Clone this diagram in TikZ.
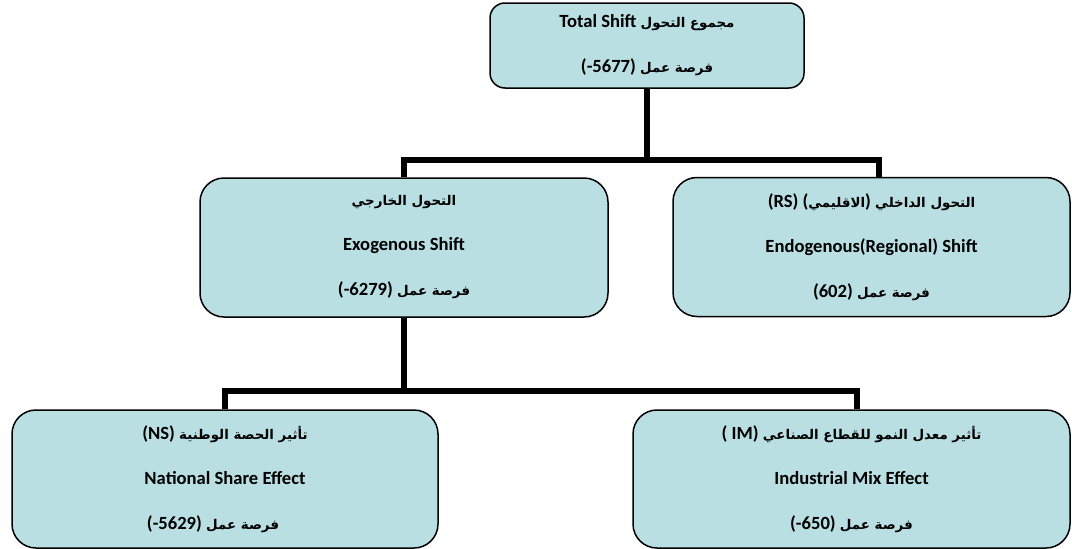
\documentclass[tikz,border=0pt]{standalone}
\usepackage{fontspec}
\setmainfont{Carlito}
\newfontfamily\arabicfont[Script=Arabic,Scale=0.72]{DejaVu Sans}
\TeXXeTstate=1
\usetikzlibrary{calc}
\definecolor{boxfill}{HTML}{B9DFE3}
% Arabic run, set right to left
\newcommand{\artxt}[1]{{\arabicfont\beginR #1\endR}}

\begin{document}
\begin{tikzpicture}[x=1pt,y=-1pt,
  box/.style={draw=black, line width=1.5pt, fill=boxfill, inner sep=0pt,
    align=center, font=\bfseries\fontsize{18.6}{45}\selectfont},
  smallcorner/.style={rounded corners=15pt},
  bigcorner/.style={rounded corners=24pt},
  conn/.style={draw=black, line width=6pt, line join=miter}]
\useasboundingbox (0,0) rectangle (1072,549);

% top level
\node[box, smallcorner, minimum width=314, minimum height=85] (total) at (647,45.5)
  {Total Shift \artxt{مجموع التحول}\\
   (-5677) \artxt{فرصة عمل}};

% second level
\node[box, bigcorner, minimum width=408, minimum height=139] (exo) at (404,247.5)
  {\artxt{التحول الخارجي}\\
   Exogenous Shift\\
   (-6279) \artxt{فرصة عمل}};
\node[box, bigcorner, minimum width=397, minimum height=139] (endo) at (871.5,247)
  {(RS) (\artxt{الاقليمي}) \artxt{التحول الداخلي}\\
   Endogenous(Regional) Shift\\
   (602) \artxt{فرصة عمل}};

% third level
\node[box, bigcorner, minimum width=426, minimum height=138] (ns) at (225,479)
  {(NS) \artxt{تأثير الحصة الوطنية}\\
   National Share Effect\\
   (-5629) \artxt{فرصة عمل}\hspace*{24pt}};
\node[box, bigcorner, minimum width=437, minimum height=138] (im) at (851.5,479)
  {( IM) \artxt{تأثير معدل النمو للقطاع الصناعي}\\
   Industrial Mix Effect\\
   (-650) \artxt{فرصة عمل}};

% elbow connectors
\coordinate (j1) at (647,160);
\coordinate (endotop) at ($(endo.north)+(7.5,0)$);
\draw[conn] (total.south) -- (j1);
\draw[conn] (exo.north) |- (j1) -| (endotop);

\coordinate (j2) at (404,391);
\coordinate (imtop) at ($(im.north)+(5.5,0)$);
\draw[conn] (exo.south) -- (j2);
\draw[conn] (ns.north) |- (j2) -| (imtop);
\end{tikzpicture}
\end{document}
